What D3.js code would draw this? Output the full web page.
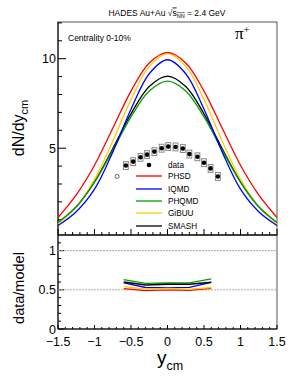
<!DOCTYPE html>
<html>
<head>
<meta charset="utf-8">
<script src="https://cdn.jsdelivr.net/npm/d3@7"></script>
<style>
body { margin: 0; background: #fff; }
text { font-family: "Liberation Sans", Arial, sans-serif; fill: #000; }
</style>
</head>
<body>
<div id="chart"></div>
<script>
// model curves, dN/dy vs y_cm
var yGrid = [-1.5, -1.25, -1.0, -0.75, -0.5, -0.25, 0, 0.25, 0.5, 0.75, 1.0, 1.25, 1.5];
var phsd  = [1.13, 2.39, 4.05, 6.11, 8.19, 9.76, 10.35, 9.76, 8.19, 6.11, 4.05, 2.39, 1.13];
var iqmd  = [0.68, 1.45, 2.71, 4.78, 7.18, 9.16, 9.94, 9.16, 7.18, 4.78, 2.71, 1.45, 0.68];
var phqmd = [0.85, 1.73, 3.10, 4.88, 6.75, 8.20, 8.75, 8.20, 6.75, 4.88, 3.10, 1.73, 0.85];
var gibuu = [0.78, 1.71, 3.26, 5.39, 7.72, 9.57, 10.28, 9.57, 7.72, 5.39, 3.26, 1.71, 0.78];
var smash = [0.83, 1.72, 3.12, 4.97, 6.92, 8.45, 9.03, 8.45, 6.92, 4.97, 3.12, 1.72, 0.83];

// HADES data
var dataX   = [-0.57, -0.47, -0.37, -0.28, -0.18, -0.08, 0.01, 0.11, 0.21, 0.30, 0.41, 0.50, 0.59, 0.69];
var dataY   = [4.03, 4.25, 4.49, 4.64, 4.81, 5.00, 5.09, 5.07, 4.98, 4.67, 4.52, 4.19, 3.87, 3.42];
var dataSys = [0.22, 0.22, 0.22, 0.22, 0.22, 0.22, 0.22, 0.22, 0.22, 0.22, 0.22, 0.22, 0.22, 0.22];
var reflX = [-0.69];
var reflY = [3.42];

// data/model ratios
var ratioX     = [-0.6, -0.3, 0, 0.3, 0.6];
var ratioPhsd  = [0.515, 0.49, 0.50, 0.495, 0.52];
var ratioIqmd  = [0.59, 0.53, 0.525, 0.532, 0.595];
var ratioPhqmd = [0.63, 0.583, 0.587, 0.59, 0.64];
var ratioGibuu = [0.545, 0.51, 0.515, 0.505, 0.53];
var ratioSmash = [0.60, 0.562, 0.571, 0.571, 0.597];

var models = [
	{name: "PHSD", color: "#ff0000", curve: phsd, ratio: ratioPhsd},
	{name: "IQMD", color: "#0000ff", curve: iqmd, ratio: ratioIqmd},
	{name: "PHQMD", color: "#00a000", curve: phqmd, ratio: ratioPhqmd},
	{name: "GiBUU", color: "#ffcc00", curve: gibuu, ratio: ratioGibuu},
	{name: "SMASH", color: "#000000", curve: smash, ratio: ratioSmash}
];

var W = 291, H = 376;
var left = 58, right = 277;
var topY0 = 22, topY1 = 235, botY1 = 329;

var svg = d3.select("#chart").append("svg")
	.attr("width", W)
	.attr("height", H);

var x = d3.scaleLinear().domain([-1.5, 1.5]).range([left, right]);
var yTop = d3.scaleLinear().domain([0.15, 12.05]).range([topY1, topY0]);
var yBot = d3.scaleLinear().domain([0, 1.2]).range([botY1, topY1]);

// clip for the upper pad
svg.append("clipPath").attr("id", "clipTop")
	.append("rect").attr("x", left).attr("y", topY0).attr("width", right - left).attr("height", topY1 - topY0);

// frames
svg.append("rect")
	.attr("x", left).attr("y", topY0)
	.attr("width", right - left).attr("height", topY1 - topY0)
	.style("fill", "none").style("stroke", "#555").style("stroke-width", 1);
svg.append("rect")
	.attr("x", left).attr("y", topY1)
	.attr("width", right - left).attr("height", botY1 - topY1)
	.style("fill", "none").style("stroke", "#555").style("stroke-width", 1);

// axes, ticks pointing inward
function xTicks(yPos, majLen, minLen) {
	var minor = d3.range(-15, 16).map(function(d) { return d / 10; });
	svg.append("g").selectAll("line").data(minor).enter().append("line")
		.attr("x1", function(d) { return x(d); })
		.attr("x2", function(d) { return x(d); })
		.attr("y1", yPos)
		.attr("y2", function(d) { return Math.abs(d * 2 - Math.round(d * 2)) < 1e-6 ? yPos - majLen : yPos - minLen; })
		.style("stroke", "#000").style("stroke-width", 1);
	svg.append("line").attr("x1", left).attr("x2", right).attr("y1", yPos).attr("y2", yPos)
		.style("stroke", "#000").style("stroke-width", 1.2);
}
xTicks(topY1, 6, 3);
xTicks(botY1, 4, 2);

svg.append("line").attr("x1", left).attr("x2", left).attr("y1", topY0).attr("y2", botY1)
	.style("stroke", "#000").style("stroke-width", 1);

// top y ticks
var topMinor = d3.range(1, 13);
svg.append("g").selectAll("line").data(topMinor.filter(function(d) { return yTop(d) >= topY0; })).enter().append("line")
	.attr("x1", left)
	.attr("x2", function(d) { return d % 5 === 0 ? left + 8 : left + 4; })
	.attr("y1", function(d) { return yTop(d); })
	.attr("y2", function(d) { return yTop(d); })
	.style("stroke", "#000");
svg.append("g").selectAll("text").data([5, 10]).enter().append("text")
	.attr("x", left - 2)
	.attr("y", function(d) { return yTop(d) + 4.5; })
	.attr("text-anchor", "end")
	.style("font-size", "12.5px")
	.text(function(d) { return d; });

// bottom y ticks
var botMinor = d3.range(0, 12).map(function(d) { return d / 10; });
svg.append("g").selectAll("line").data(botMinor).enter().append("line")
	.attr("x1", left)
	.attr("x2", function(d) { return Math.abs(d * 2 - Math.round(d * 2)) < 1e-6 ? left + 6 : left + 3; })
	.attr("y1", function(d) { return yBot(d); })
	.attr("y2", function(d) { return yBot(d); })
	.style("stroke", "#000");
svg.append("g").selectAll("text").data([0, 0.5, 1]).enter().append("text")
	.attr("x", left - 2)
	.attr("y", function(d) { return yBot(d) + 4.5; })
	.attr("text-anchor", "end")
	.style("font-size", "12.5px")
	.text(function(d) { return d; });

// x tick labels
svg.append("g").selectAll("text").data([-1.5, -1, -0.5, 0, 0.5, 1, 1.5]).enter().append("text")
	.attr("x", function(d) { return x(d); })
	.attr("y", 346)
	.attr("text-anchor", "middle")
	.style("font-size", "12.5px")
	.text(function(d) { return d < 0 ? "\u2212" + (-d) : d; });

// reference lines in ratio pad
svg.append("g").selectAll("line").data([0.5, 1]).enter().append("line")
	.attr("x1", left).attr("x2", right)
	.attr("y1", function(d) { return yBot(d); })
	.attr("y2", function(d) { return yBot(d); })
	.style("stroke", "#aaa").style("stroke-width", 1).style("stroke-dasharray", "2,1");

// model curves
var line = d3.line()
	.x(function(d) { return x(d[0]); })
	.y(function(d) { return yTop(d[1]); })
	.curve(d3.curveCatmullRom);
var gCurves = svg.append("g").attr("clip-path", "url(#clipTop)");
models.slice().reverse().forEach(function(m) {
	gCurves.append("path")
		.datum(yGrid.map(function(v, i) { return [v, m.curve[i]]; }))
		.attr("d", line)
		.style("fill", "none").style("stroke", m.color).style("stroke-width", 1.3);
});

// ratio lines
var rline = d3.line()
	.x(function(d) { return x(d[0]); })
	.y(function(d) { return yBot(d[1]); });
models.forEach(function(m) {
	svg.append("path")
		.datum(ratioX.map(function(v, i) { return [v, m.ratio[i]]; }))
		.attr("d", rline)
		.style("fill", "none").style("stroke", m.color).style("stroke-width", 1.3);
});

// data: systematic boxes, points, reflected point
var pts = dataX.map(function(v, i) { return {x: v, y: dataY[i], s: dataSys[i]}; });
svg.append("g").selectAll("rect").data(pts).enter().append("rect")
	.attr("x", function(d) { return x(d.x - 0.033); })
	.attr("y", function(d) { return yTop(d.y + d.s); })
	.attr("width", function(d) { return x(d.x + 0.033) - x(d.x - 0.033); })
	.attr("height", function(d) { return yTop(d.y - d.s) - yTop(d.y + d.s); })
	.style("fill", "none").style("stroke", "#888").style("stroke-width", 1);
svg.append("g").selectAll("circle").data(pts).enter().append("circle")
	.attr("cx", function(d) { return x(d.x); })
	.attr("cy", function(d) { return yTop(d.y); })
	.attr("r", 2.3)
	.style("fill", "#000");
svg.append("g").selectAll("circle").data(reflX.map(function(v, i) { return {x: v, y: reflY[i]}; })).enter().append("circle")
	.attr("cx", function(d) { return x(d.x); })
	.attr("cy", function(d) { return yTop(d.y); })
	.attr("r", 2)
	.style("fill", "none").style("stroke", "#444").style("stroke-width", 0.8);

// legend
var legX1 = 136, legX2 = 162, legTx = 168;
var legY = [165, 176, 189, 201, 213, 226];
svg.append("circle").attr("cx", 149).attr("cy", legY[0]).attr("r", 2.3).style("fill", "#000");
svg.append("text").attr("x", legTx).attr("y", legY[0] + 3).style("font-size", "8.2px").text("data");
models.forEach(function(m, i) {
	svg.append("line")
		.attr("x1", legX1).attr("x2", legX2)
		.attr("y1", legY[i + 1]).attr("y2", legY[i + 1])
		.style("stroke", m.color).style("stroke-width", 1.3);
	svg.append("text")
		.attr("x", legTx).attr("y", legY[i + 1] + 3)
		.style("font-size", "8.2px")
		.text(m.name);
});

// title
var title = svg.append("text")
	.attr("x", 167).attr("y", 15.5)
	.attr("text-anchor", "middle")
	.style("font-size", "8.5px");
title.append("tspan").text("HADES  Au+Au  ");
title.append("tspan").text("\u221A");
title.append("tspan").style("text-decoration", "overline").text("s");
title.append("tspan").attr("dy", 2).style("font-size", "5.5px").style("text-decoration", "overline").text("NN");
title.append("tspan").attr("dy", -2).text(" = 2.4 GeV");

svg.append("text")
	.attr("x", 68).attr("y", 41)
	.style("font-size", "8.5px")
	.text("Centrality 0-10%");

var pi = svg.append("text")
	.attr("x", 235).attr("y", 39)
	.style("font-family", "'Liberation Serif', serif")
	.style("font-size", "17px");
pi.append("tspan").text("\u03C0");
pi.append("tspan").attr("dy", -6).style("font-size", "11px").text("+");

// axis titles
var yl = svg.append("text")
	.attr("transform", "translate(24,128) rotate(-90)")
	.attr("text-anchor", "middle")
	.style("font-size", "16px");
yl.append("tspan").text("dN/dy");
yl.append("tspan").attr("dy", 4).style("font-size", "11px").text("cm");

svg.append("text")
	.attr("transform", "translate(24,288) rotate(-90)")
	.attr("text-anchor", "middle")
	.style("font-size", "14.5px")
	.text("data/model");

var xl = svg.append("text")
	.attr("x", 157).attr("y", 364)
	.style("font-size", "19px");
xl.append("tspan").text("y");
xl.append("tspan").attr("dy", 6).style("font-size", "12.5px").text("cm");
</script>
</body>
</html>
